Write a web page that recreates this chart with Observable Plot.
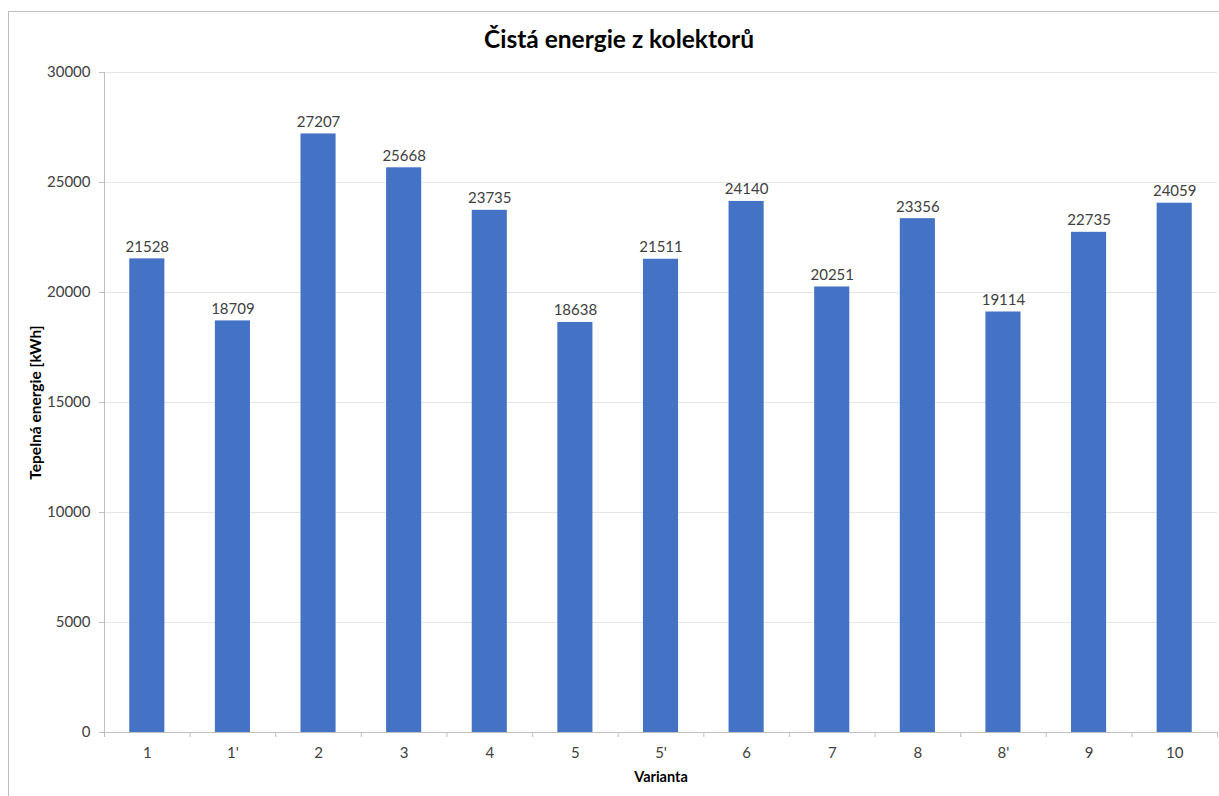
<!DOCTYPE html>
<html>
<head>
<meta charset="utf-8">
<script src="https://cdn.jsdelivr.net/npm/d3@7"></script>
<script src="https://cdn.jsdelivr.net/npm/@observablehq/plot@0.6"></script>
<style>
  html, body { margin: 0; padding: 0; background: #fff; }
  #wrap { position: relative; width: 1219px; height: 796px; overflow: hidden; font-family: Lato, "Liberation Sans", sans-serif; }
  #border { position: absolute; left: 8px; top: 11px; width: 1300px; height: 900px; border: 1px solid #bdbdbd; box-sizing: border-box; }
  #title { position: absolute; top: 24px; left: 0; width: 1238px; text-align: center; font-size: 24.5px; font-weight: bold; color: #000; }
  #chart { position: absolute; left: 0; top: 0; }
</style>
</head>
<body>
<div id="wrap">
  <div id="border"></div>
  <div id="title">Čistá energie z kolektorů</div>
  <div id="chart"></div>
</div>
<script>
const categories = ["1", "1'", "2", "3", "4", "5", "5'", "6", "7", "8", "8'", "9", "10"];
const values = [21528, 18709, 27207, 25668, 23735, 18638, 21511, 24140, 20251, 23356, 19114, 22735, 24059];
const yTicks = [0, 5000, 10000, 15000, 20000, 25000, 30000];
const yLabel = "Tepelná energie [kWh]";
const xLabel = "Varianta";

const data = categories.map((c, i) => ({cat: c, value: values[i]}));

const W = 1219, H = 796;
const mL = 104, mR = 2, mT = 72, mB = 64;
const bw = (W - mL - mR) / categories.length;

const chart = Plot.plot({
  width: W,
  height: H,
  marginLeft: mL,
  marginRight: mR,
  marginTop: mT,
  marginBottom: mB,
  style: {fontFamily: "Lato, 'Liberation Sans', sans-serif", fontSize: "15px", color: "#404040", background: "transparent"},
  x: {type: "band", domain: categories, paddingInner: 0.59, paddingOuter: 0.295, align: 0.5, round: false},
  y: {domain: [0, 30000]},
  marks: [
    Plot.gridY(yTicks, {stroke: "#e6e6e6", strokeOpacity: 1}),
    Plot.barY(data, {x: "cat", y: "value", fill: "#4472c4"}),
    Plot.ruleY([0], {stroke: "#bfbfbf", strokeWidth: 1}),
    Plot.ruleX([categories[0]], {dx: -bw / 2, y1: 0, y2: 30000, stroke: "#bfbfbf"}),
    Plot.axisY(yTicks, {tickSize: 5, tickPadding: 9, stroke: "#bfbfbf", fill: "#404040", label: null, fontSize: 15, tickFormat: d => String(d)}),
    Plot.axisX({tickSize: 0, tickPadding: 15, fill: "#404040", label: null, fontSize: 15}),
    Plot.axisX({tickSize: 5, dx: -bw / 2, stroke: "#bfbfbf", text: null, label: null}),
    Plot.axisX([categories[categories.length - 1]], {tickSize: 5, dx: bw / 2, stroke: "#bfbfbf", text: null, label: null}),
    Plot.text(data, {x: "cat", y: "value", text: d => String(d.value), lineAnchor: "bottom", dy: -7, fill: "#404040", fontSize: 15}),
    Plot.text([yLabel], {frameAnchor: "left", textAnchor: "middle", rotate: -90, dx: -68, text: d => d, fontWeight: "bold", fontSize: 15.5, fill: "#000"}),
    Plot.text([xLabel], {frameAnchor: "bottom", dy: 49, text: d => d, fontWeight: "bold", fontSize: 14.5, fill: "#000"})
  ]
});
document.getElementById("chart").appendChild(chart);
</script>
</body>
</html>
